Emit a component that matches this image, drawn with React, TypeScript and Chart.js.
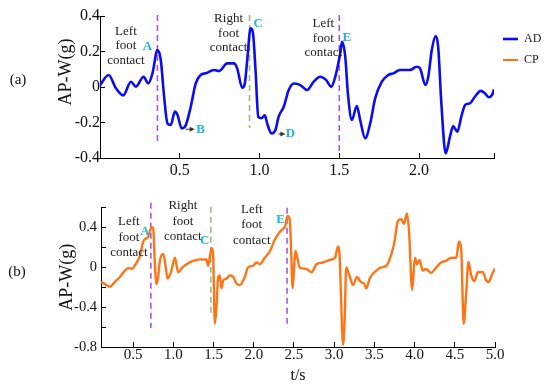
import React, { useEffect, useRef } from 'react';
import { Chart, registerables } from 'chart.js';

Chart.register(...registerables);

const FONT = "'Liberation Serif', 'Times New Roman', serif";
const BLUE = '#0c0cf2';
const ORANGE = '#ff7414';
const PURPLE = '#a65bd9';
const GREEN = '#9fbb7a';
const CYAN = '#1fb3ea';

// ---- (a) AD signal ----
const adTime = [0.0, 0.054, 0.1, 0.146, 0.194, 0.225, 0.273, 0.302, 0.329, 0.36, 0.381, 0.402, 0.423, 0.444, 0.469, 0.486, 0.512, 0.533, 0.569, 0.6, 0.631, 0.6625, 0.714, 0.746, 0.798, 0.84, 0.86, 0.892, 0.908, 0.923, 0.944, 0.958, 0.975, 0.992, 1.0125, 1.033, 1.048, 1.075, 1.1, 1.12, 1.152, 1.183, 1.215, 1.256, 1.298, 1.34, 1.381, 1.417, 1.45, 1.475, 1.506, 1.517, 1.5375, 1.554, 1.579, 1.61, 1.631, 1.6625, 1.694, 1.725, 1.767, 1.808, 1.839, 1.88, 1.9, 1.944, 1.985, 2.006, 2.04, 2.058, 2.08, 2.104, 2.12, 2.14, 2.167, 2.194, 2.214, 2.24, 2.265, 2.29, 2.319, 2.35, 2.3875, 2.4125, 2.4375, 2.458, 2.47];
const adValue = [0.01, 0.068, -0.007, -0.047, 0.03, 0.002, 0.058, 0.02, 0.077, 0.208, 0.152, -0.055, -0.205, -0.214, -0.139, -0.158, -0.233, -0.224, -0.111, 0.02, 0.068, 0.077, 0.096, 0.09, 0.133, 0.133, 0.105, -0.004, 0.02, 0.152, 0.33, 0.31, 0.096, -0.167, -0.176, -0.16, -0.205, -0.261, -0.242, -0.167, -0.111, -0.017, 0.02, 0.011, -0.017, 0.03, 0.058, 0.04, 0.002, 0.058, 0.19, 0.255, 0.171, -0.036, -0.186, -0.107, -0.186, -0.289, -0.205, -0.064, 0.03, 0.068, 0.077, 0.096, 0.096, 0.096, 0.114, 0.105, 0.011, 0.058, 0.208, 0.287, 0.227, -0.092, -0.374, -0.28, -0.22, -0.252, -0.167, -0.1, -0.092, -0.055, -0.022, -0.035, -0.058, -0.045, -0.013];

// ---- (b) CP signal ----
const cpTime = [0.1, 0.149, 0.211, 0.273, 0.335, 0.398, 0.439, 0.48, 0.543, 0.584, 0.625, 0.687, 0.729, 0.75, 0.77, 0.791, 0.81, 0.832, 0.874, 0.9, 0.928, 0.97, 1.019, 1.06, 1.11, 1.164, 1.246, 1.329, 1.37, 1.412, 1.432, 1.455, 1.475, 1.495, 1.516, 1.537, 1.557, 1.578, 1.598, 1.62, 1.66, 1.7, 1.74, 1.785, 1.826, 1.888, 1.929, 1.99, 2.033, 2.075, 2.137, 2.2, 2.26, 2.323, 2.365, 2.394, 2.418, 2.446, 2.468, 2.48, 2.52, 2.57, 2.61, 2.67, 2.717, 2.779, 2.86, 2.944, 3.01, 3.048, 3.07, 3.083, 3.11, 3.13, 3.15, 3.19, 3.234, 3.284, 3.33, 3.37, 3.4, 3.44, 3.524, 3.586, 3.648, 3.71, 3.75, 3.793, 3.835, 3.867, 3.905, 3.93, 3.97, 4.004, 4.03, 4.062, 4.1, 4.14, 4.207, 4.27, 4.33, 4.39, 4.456, 4.52, 4.55, 4.58, 4.61, 4.643, 4.67, 4.705, 4.745, 4.786, 4.848, 4.89, 4.92, 4.966, 5.0];
const cpValue = [-0.146, -0.168, -0.194, -0.146, -0.097, -0.032, -0.007, -0.015, 0.049, 0.113, 0.259, 0.307, 0.405, 0.39, 0.032, -0.168, -0.1, 0.065, 0.136, 0.03, -0.113, -0.05, 0.097, -0.049, -0.002, 0.032, 0.065, 0.081, 0.078, 0.081, 0.016, 0.113, 0.194, 0.113, -0.566, -0.39, -0.097, -0.081, -0.21, -0.13, -0.113, -0.081, -0.091, -0.162, -0.178, -0.097, 0, 0.016, 0.049, 0.032, 0.097, 0.162, 0.275, 0.356, 0.388, 0.42, 0.517, 0.485, 0.097, -0.21, 0.162, 0, -0.01, -0.023, -0.049, 0.032, 0.049, 0.075, 0.097, 0.21, 0.081, -0.243, -0.777, -0.534, 0, -0.081, -0.178, -0.097, -0.146, -0.162, -0.21, -0.113, -0.032, 0, 0.016, 0.129, 0.259, 0.469, 0.485, 0.437, 0.541, 0.372, -0.226, 0.097, 0.032, 0.075, -0.032, -0.016, -0.055, 0, 0.049, 0.065, 0.097, 0.097, 0.259, 0.178, -0.566, -0.243, 0.055, -0.081, -0.139, -0.049, -0.049, -0.129, -0.146, -0.065, -0.01];

// ---- ticks ----
const topXTicks = [0.5, 1.0, 1.5, 2.0, 2.47];
const topXLabels = ['0.5', '1.0', '1.5', '2.0', ''];
const topYTicks = [-0.4, -0.2, 0, 0.2, 0.4];
const topYLabels = ['-0.4', '-0.2', '0', '0.2', '0.4'];
const botXTicks = [0.5, 1.0, 1.5, 2.0, 2.5, 3.0, 3.5, 4.0, 4.5, 5.0];
const botXLabels = ['0.5', '1.0', '1.5', '2.0', '2.5', '3.0', '3.5', '4.0', '4.5', '5.0'];
const botYTicks = [-0.8, -0.6, -0.4, -0.2, 0, 0.2, 0.4, 0.6];
const botYLabels = ['-0.8', '', '-0.4', '', '0', '', '0.4', ''];

// ---- annotations (data coordinates) ----
type VLine = { t: number; from: number; to: number; foot: 'left' | 'right' };
type TextBlock = { t: number; v: number; lines: string[] };
type Marker = { t: number; v: number; text: string };
type Arrow = { t0: number; t1: number; v: number };

const contactWords = ['foot', 'contact'];
const topContactLines: VLine[] = [
  { t: 0.36, from: 0.406, to: -0.315, foot: 'left' },
  { t: 0.9375, from: 0.406, to: -0.231, foot: 'right' },
  { t: 1.5, from: 0.406, to: -0.372, foot: 'left' },
];
const topContactText: TextBlock[] = [
  { t: 0.1625, v: 0.315, lines: ['Left', ...contactWords] },
  { t: 0.806, v: 0.383, lines: ['Right', ...contactWords] },
  { t: 1.4, v: 0.355, lines: ['Left', ...contactWords] },
];
const topMarkers: Marker[] = [
  { t: 0.298, v: 0.227, text: 'A' },
  { t: 0.631, v: -0.238, text: 'B' },
  { t: 0.992, v: 0.355, text: 'C' },
  { t: 1.194, v: -0.265, text: 'D' },
  { t: 1.548, v: 0.28, text: 'E' },
];
const topArrows: Arrow[] = [
  { t0: 0.5375, t1: 0.5875, v: -0.238 },
  { t0: 1.119, t1: 1.156, v: -0.265 },
];

const botContactLines: VLine[] = [
  { t: 0.72, from: 0.65, to: -0.61, foot: 'left' },
  { t: 1.466, from: 0.61, to: -0.466, foot: 'right' },
  { t: 2.414, from: 0.6, to: -0.61, foot: 'left' },
];
const botContactText: TextBlock[] = [
  { t: 0.447, v: 0.456, lines: ['Left', ...contactWords] },
  { t: 1.118, v: 0.621, lines: ['Right', ...contactWords] },
  { t: 1.975, v: 0.583, lines: ['Left', ...contactWords] },
];
const botMarkers: Marker[] = [
  { t: 0.646, v: 0.359, text: 'A' },
  { t: 1.391, v: 0.272, text: 'C' },
  { t: 2.332, v: 0.485, text: 'E' },
];

type FreeText = { text: string; x: number; y: number; size: number; rotate?: boolean };

function makeAnnot(
  lines: VLine[],
  texts: TextBlock[],
  markers: Marker[],
  arrows: Arrow[],
  lineStep: number,
  free: FreeText[]
) {
  return {
    id: 'annot',
    beforeDatasetsDraw(chart: any) {
      const { ctx } = chart;
      const xs = chart.scales.x;
      const ys = chart.scales.y;
      ctx.save();
      ctx.lineWidth = 1.6;
      ctx.setLineDash([6, 4]);
      for (const l of lines) {
        const x = xs.getPixelForValue(l.t);
        ctx.strokeStyle = l.foot === 'left' ? PURPLE : GREEN;
        ctx.beginPath();
        ctx.moveTo(x, ys.getPixelForValue(l.from));
        ctx.lineTo(x, ys.getPixelForValue(l.to));
        ctx.stroke();
      }
      ctx.restore();
    },
    afterDatasetsDraw(chart: any) {
      const { ctx } = chart;
      const xs = chart.scales.x;
      const ys = chart.scales.y;
      ctx.save();
      ctx.textAlign = 'center';
      ctx.textBaseline = 'middle';
      ctx.fillStyle = '#222';
      ctx.font = `13px ${FONT}`;
      for (const b of texts) {
        const x = xs.getPixelForValue(b.t);
        const y = ys.getPixelForValue(b.v);
        b.lines.forEach((s, i) => ctx.fillText(s, x, y + i * lineStep));
      }
      ctx.font = `bold 13px ${FONT}`;
      ctx.fillStyle = CYAN;
      for (const m of markers) {
        ctx.fillText(m.text, xs.getPixelForValue(m.t), ys.getPixelForValue(m.v));
      }
      ctx.strokeStyle = '#333';
      ctx.fillStyle = '#333';
      ctx.lineWidth = 1;
      for (const a of arrows) {
        const x0 = xs.getPixelForValue(a.t0);
        const x1 = xs.getPixelForValue(a.t1);
        const y = ys.getPixelForValue(a.v);
        ctx.beginPath();
        ctx.moveTo(x0, y);
        ctx.lineTo(x1 - 3, y);
        ctx.stroke();
        ctx.beginPath();
        ctx.moveTo(x1 + 1, y);
        ctx.lineTo(x1 - 4, y - 2.5);
        ctx.lineTo(x1 - 4, y + 2.5);
        ctx.closePath();
        ctx.fill();
      }
      ctx.restore();
    },
    afterDraw(chart: any) {
      const { ctx } = chart;
      ctx.save();
      ctx.fillStyle = '#111';
      ctx.textAlign = 'center';
      ctx.textBaseline = 'middle';
      for (const f of free) {
        ctx.font = `${f.size}px ${FONT}`;
        ctx.save();
        ctx.translate(f.x, f.y);
        if (f.rotate) ctx.rotate(-Math.PI / 2);
        ctx.fillText(f.text, 0, 0);
        ctx.restore();
      }
      ctx.restore();
    },
  };
}

function axis(
  min: number,
  max: number,
  ticks: number[],
  labels: string[],
  fontSize: number,
  pad: number,
  fitSize: number,
  horizontal: boolean,
  title?: any
) {
  return {
    type: 'linear',
    min,
    max,
    afterBuildTicks: (s: any) => {
      s.ticks = ticks.map((value) => ({ value }));
    },
    afterFit: (s: any) => {
      if (horizontal) s.height = fitSize;
      else s.width = fitSize;
    },
    ticks: {
      autoSkip: false,
      maxRotation: 0,
      padding: pad,
      color: '#111',
      font: { family: FONT, size: fontSize },
      callback: (_v: any, i: number) => labels[i],
    },
    grid: { drawOnChartArea: false, tickLength: -5, color: '#000', tickColor: '#000', tickWidth: 1 },
    border: { display: true, color: '#000', width: 1 },
    title: title || { display: false },
  };
}

export default function App() {
  const topRef = useRef<HTMLCanvasElement>(null);
  const botRef = useRef<HTMLCanvasElement>(null);

  useEffect(() => {
    const top = new Chart(topRef.current as HTMLCanvasElement, {
      type: 'line',
      data: {
        datasets: [
          {
            label: 'AD',
            data: adTime.map((t, i) => ({ x: t, y: adValue[i] })),
            borderColor: BLUE,
            backgroundColor: BLUE,
            borderWidth: 2.6,
            pointRadius: 0,
            cubicInterpolationMode: 'monotone',
            fill: false,
          },
          {
            label: 'CP',
            data: [],
            borderColor: ORANGE,
            backgroundColor: ORANGE,
            borderWidth: 2,
            pointRadius: 0,
          },
        ],
      },
      options: {
        responsive: false,
        animation: false,
        devicePixelRatio: 1,
        layout: { padding: { left: 0, right: 0, top: 16, bottom: 0 } },
        plugins: {
          tooltip: { enabled: false },
          legend: {
            position: 'right',
            align: 'start',
            maxWidth: 56,
            title: { display: true, text: '', padding: 0, font: { size: 8, lineHeight: 1 } },
            labels: {
              usePointStyle: true,
              pointStyle: 'line',
              pointStyleWidth: 15,
              padding: 9,
              color: '#222',
              font: { family: FONT, size: 12 },
            },
          },
        },
        scales: {
          x: axis(0, 2.47, topXTicks, topXLabels, 16, 8, 32, true),
          y: axis(-0.4, 0.4, topYTicks, topYLabels, 16, 5, 100, false),
        },
      } as any,
      plugins: [
        makeAnnot(topContactLines, topContactText, topMarkers, topArrows, 14.5, [
          { text: '(a)', x: 18, y: 80, size: 15 },
          { text: 'AP-W(g)', x: 66, y: 72, size: 18, rotate: true },
        ]),
      ],
    } as any);

    const bot = new Chart(botRef.current as HTMLCanvasElement, {
      type: 'line',
      data: {
        datasets: [
          {
            label: 'CP',
            data: cpTime.map((t, i) => ({ x: t, y: cpValue[i] })),
            borderColor: ORANGE,
            backgroundColor: ORANGE,
            borderWidth: 2.4,
            pointRadius: 0,
            cubicInterpolationMode: 'monotone',
            fill: false,
          },
        ],
      },
      options: {
        responsive: false,
        animation: false,
        devicePixelRatio: 1,
        layout: { padding: { left: 0, right: 55, top: 13, bottom: 0 } },
        plugins: { tooltip: { enabled: false }, legend: { display: false } },
        scales: {
          x: axis(0.1, 5.0, botXTicks, botXLabels, 15, 4, 41, true, {
            display: true,
            text: 't/s',
            color: '#111',
            font: { family: FONT, size: 16, lineHeight: 1.2 },
            padding: { top: 0, bottom: 2.4 },
          }),
          y: axis(-0.8, 0.6, botYTicks, botYLabels, 14.5, 9, 101, false, {
            display: true,
            text: 'AP-W(g)',
            color: '#111',
            font: { family: FONT, size: 18, lineHeight: 1 },
            padding: { top: 58, bottom: 0 },
          }),
        },
      } as any,
      plugins: [
        makeAnnot(botContactLines, botContactText, botMarkers, [], 15.5, [
          { text: '(b)', x: 17, y: 82, size: 15 },
        ]),
      ],
    } as any);

    return () => {
      top.destroy();
      bot.destroy();
    };
  }, []);

  return (
    <div style={{ position: 'absolute', left: 0, top: 0, width: 550, height: 388, background: '#fff' }}>
      <canvas ref={topRef} width={550} height={190} style={{ position: 'absolute', left: 0, top: 0 }} />
      <canvas ref={botRef} width={550} height={198} style={{ position: 'absolute', left: 0, top: 190 }} />
    </div>
  );
}
